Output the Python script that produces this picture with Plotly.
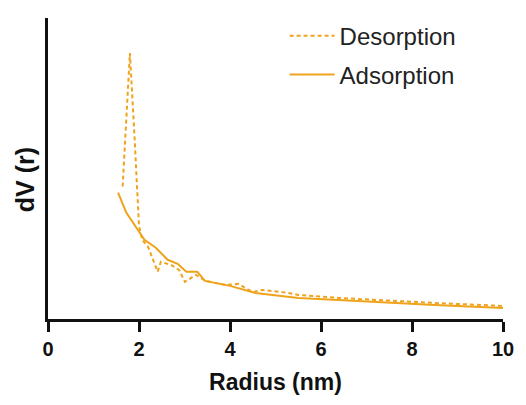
import plotly.graph_objects as go

# Desorption branch (radius nm, dV(r) arbitrary units)
des_r = [1.64, 1.80, 1.90, 2.00, 2.07, 2.20, 2.41, 2.48, 2.70, 2.88, 3.01, 3.25, 3.46, 3.90, 4.19, 4.41, 4.52, 4.70, 5.28, 5.50, 6.38, 7.5, 8.5, 10.0]
des_v = [132, 265, 183, 93, 79, 72, 47, 57, 54, 49, 37, 44, 38, 34, 35, 29, 27, 29, 26, 24, 21, 18, 16, 13]

# Adsorption branch
ads_r = [1.54, 1.72, 2.12, 2.37, 2.63, 2.85, 3.04, 3.28, 3.45, 4.0, 4.56, 5.50, 6.38, 7.5, 8.5, 10.0]
ads_v = [126, 106, 79, 71, 59, 55, 47, 47, 38, 33, 26, 21, 19, 16, 14, 11]

x_ticks = [0, 2, 4, 6, 8, 10]

color = "#EFA31C"
font_fam = "Liberation Sans, Arial, sans-serif"

fig = go.Figure()
fig.add_trace(go.Scatter(x=des_r, y=des_v, mode="lines", name="Desorption",
                         line=dict(color=color, width=2, dash="4px,3px"), legend="legend"))
fig.add_trace(go.Scatter(x=ads_r, y=ads_v, mode="lines", name="Adsorption",
                         line=dict(color=color, width=2), legend="legend2"))

fig.add_annotation(text="<b>dV (r)</b>", textangle=-90, xref="paper", yref="paper",
                   x=-0.05, y=(319 - 180) / 301, xanchor="center", yanchor="middle",
                   showarrow=False, font=dict(size=25, color="#111", family=font_fam))

fig.update_layout(
    width=526, height=405,
    margin=dict(l=48, r=20, t=18, b=86),
    plot_bgcolor="white", paper_bgcolor="white",
    showlegend=True,
    font=dict(family=font_fam, color="#222"),
    legend=dict(x=0.52, y=0.940, xanchor="left", yanchor="middle", bgcolor="rgba(0,0,0,0)",
                font=dict(size=24, color="#222"), itemwidth=45),
    legend2=dict(x=0.52, y=0.811, xanchor="left", yanchor="middle", bgcolor="rgba(0,0,0,0)",
                 font=dict(size=24, color="#222"), itemwidth=45),
    xaxis=dict(range=[0, 10], tickvals=x_ticks, ticks="outside", ticklen=10, tickwidth=3,
               tickcolor="#111", showline=True, linecolor="#111", linewidth=3,
               showgrid=False, zeroline=False,
               tickfont=dict(size=20, family=font_fam, color="#111", weight=700),
               title=dict(text="<b>Radius (nm)</b>", font=dict(size=23, color="#111"), standoff=15)),
    yaxis=dict(range=[0, 300], showticklabels=False, ticks="", showline=True,
               linecolor="#111", linewidth=3, showgrid=False, zeroline=False),
)

fig.write_html("out.html")
